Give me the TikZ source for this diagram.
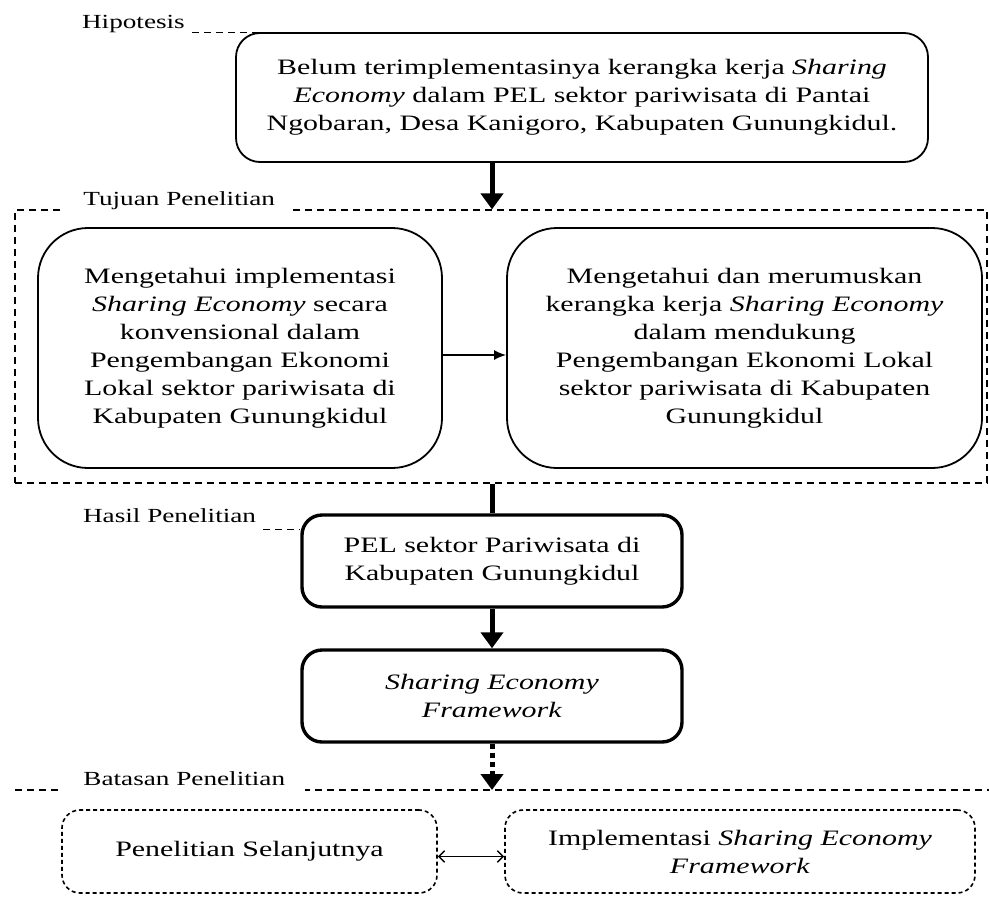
\documentclass[tikz,border=0pt]{standalone}
\usepackage{fontspec}
\setmainfont{Liberation Serif}[FakeStretch=1.36]
\usetikzlibrary{arrows.meta, positioning}

\begin{document}
\begin{tikzpicture}[x=0.5pt, y=-0.5pt,
        txt/.style={align=center, font=\fontsize{11}{14}\selectfont},
        lbl/.style={font=\fontsize{10}{12}\selectfont, anchor=base west},
        thinbox/.style={txt, draw, line width=0.9pt},
        boldbox/.style={txt, draw, line width=1.7pt, rounded corners=10pt, minimum width=190pt, minimum height=46pt},
        limitbox/.style={txt, draw, dash pattern=on 2pt off 1.5pt, line width=0.8pt, rounded corners=9pt, minimum height=41.5pt},
        bigarrow/.style={line width=2.5pt, -{Triangle[width=11pt, length=8pt]}},
        leader/.style={dash pattern=on 3.5pt off 2.5pt, line width=0.6pt}]

    \useasboundingbox (0,0) rectangle (989,900);

    % hipotesis
    \node[thinbox, rounded corners=12pt, minimum width=346pt, minimum height=64.5pt] (hyp) at (582,97.5)
        {Belum terimplementasinya kerangka kerja \textit{Sharing}\\
         \textit{Economy} dalam PEL sektor pariwisata di Pantai\\
         Ngobaran, Desa Kanigoro, Kabupaten Gunungkidul.};
    \node[lbl] (hyplbl) at (75,28) {Hipotesis};
    \draw[leader] (hyplbl.east |- hyp.north) -- ([xshift=24pt]hyp.north west);

    % tujuan penelitian
    \node[draw, leader, minimum width=486pt, minimum height=136.5pt] (tujuan) at (501,346.5) {};
    \node[lbl, fill=white, inner xsep=9pt] (tujuanlbl) at (65,205) {Tujuan Penelitian};

    \node[thinbox, rounded corners=25pt, minimum width=202pt, minimum height=120pt] (goalA) at (240,348)
        {Mengetahui implementasi\\
         \textit{Sharing Economy} secara\\
         konvensional dalam\\
         Pengembangan Ekonomi\\
         Lokal sektor pariwisata di\\
         Kabupaten Gunungkidul};
    \node[thinbox, rounded corners=25pt, minimum width=237.5pt, minimum height=120pt, right of=goalA, node distance=252.25pt] (goalB)
        {Mengetahui dan merumuskan\\
         kerangka kerja \textit{Sharing Economy}\\
         dalam mendukung\\
         Pengembangan Ekonomi Lokal\\
         sektor pariwisata di Kabupaten\\
         Gunungkidul};

    % hasil penelitian
    \node[boldbox] (pel) at (492,561) {PEL sektor Pariwisata di\\ Kabupaten Gunungkidul};
    \node[boldbox, below of=pel, node distance=67.5pt] (sef) {\textit{Sharing Economy}\\ \textit{Framework}};
    \node[lbl] (hasillbl) at (76,522) {Hasil Penelitian};
    \draw[leader] (hasillbl.south east) -- (hasillbl.south east -| pel.west);

    % batasan penelitian
    \coordinate (batL) at (15,790);
    \coordinate (batR) at (989,790);
    \draw[leader] (batL) -- (batR);
    \node[lbl, fill=white, inner xsep=10pt] (batasanlbl) at (63,785) {Batasan Penelitian};

    \node[limitbox, minimum width=187.5pt] (lanjut) at (249.5,851.5) {Penelitian Selanjutnya};
    \node[limitbox, minimum width=235pt] (impl) at (740,851.5) {Implementasi \textit{Sharing Economy}\\ \textit{Framework}};

    % alur
    \draw[bigarrow] (hyp.south -| pel.north) -- (tujuan.north -| pel.north);
    \draw[-{Latex[length=6pt, width=5pt]}, line width=0.8pt] ([yshift=-3.5pt]goalA.east) -- ([yshift=-3.5pt]goalB.west);
    \draw[line width=2.5pt] (tujuan.south -| pel.north) -- (pel.north);
    \draw[bigarrow] (pel) -- (sef);
    \draw[bigarrow, dash pattern=on 2.5pt off 2pt] (sef.south) -- (sef.south |- batL);
    \draw[{Straight Barb}-{Straight Barb}, line width=0.7pt] ([yshift=-2.5pt]lanjut.east) -- ([yshift=-2.5pt]impl.west);
\end{tikzpicture}
\end{document}
